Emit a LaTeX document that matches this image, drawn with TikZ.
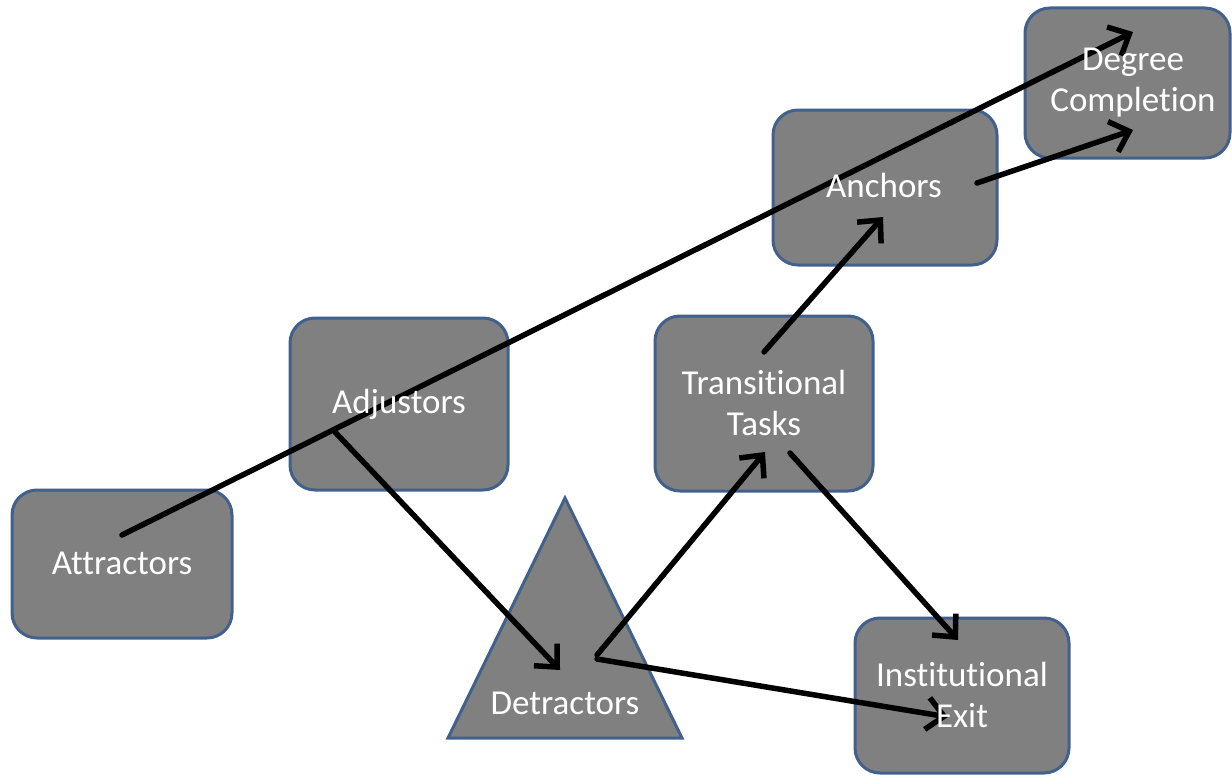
\documentclass[tikz,border=0pt]{standalone}
\usepackage{fontspec}
\setmainfont[Ligatures=NoCommon]{Carlito}
\usetikzlibrary{arrows.meta,calc}
\definecolor{boxfill}{HTML}{808080}
\definecolor{boxline}{HTML}{41618C}
\tikzset{
  box/.style={draw=boxline, line width=3pt, fill=boxfill, rounded corners=25pt, inner sep=0pt},
  lbl/.style={text=white, font=\fontsize{35}{41}\selectfont, align=center, inner sep=0pt},
  arr/.style={draw=black, line width=5.5pt, -{Straight Barb[length=17pt,width=32pt,line width=5.5pt]}, line cap=round, line join=round},
}
\begin{document}
\begin{tikzpicture}[x=1pt,y=-1pt]
\useasboundingbox (0,0) rectangle (1232,776);
% boxes
\node[box, minimum width=220pt, minimum height=148pt] (attr) at (122,564) {};
\node[box, minimum width=218pt, minimum height=172pt] (adj) at (399,404) {};
\node[box, minimum width=218pt, minimum height=175pt] (trans) at (764,403.5) {};
\node[box, minimum width=224pt, minimum height=155pt] (anch) at (885,187.5) {};
\node[box, minimum width=205pt, minimum height=150pt] (deg) at (1127.5,83) {};
\node[box, minimum width=214pt, minimum height=155pt] (exit) at (962,695.5) {};
\coordinate (tA) at (565,498);
\coordinate (tL) at (448,738);
\coordinate (tR) at (682,738);
\draw[draw=boxline, line width=3pt, fill=boxfill, line join=miter] (tA) -- (tR) -- (tL) -- cycle;
\coordinate (detr) at (565,660);
% connector end points
\coordinate (attrS) at (122,535);
\coordinate (degT1) at (1133,32);
\coordinate (adjS) at (335,432);
\coordinate (detrT) at (560,670);
\coordinate (detrS1) at (597,655);
\coordinate (transT) at (765,452);
\coordinate (detrS2) at (597,659);
\coordinate (exitT1) at (948,717);
\coordinate (transS1) at (764,352);
\coordinate (anchT) at (883,217);
\coordinate (transS2) at (790,453);
\coordinate (exitT2) at (958,640);
\coordinate (anchS) at (977,183);
\coordinate (degT2) at (1133,130);
% connectors
\draw[arr] (attrS) -- (degT1);
\draw[arr] (adjS) -- (detrT);
\draw[arr] (detrS1) -- (transT);
\draw[arr] (detrS2) -- (exitT1);
\draw[arr] (transS1) -- (anchT);
\draw[arr] (transS2) -- (exitT2);
\draw[arr] (anchS) -- (degT2);
% labels
\node[lbl] (attrL) at (122,563) {Attractors};
\node[lbl] (adjL) at (399,404) {Adjustors};
\node[lbl] (transL) at (764,403) {Transitional\\Tasks};
\node[lbl] (anchL) at (884,185) {Anchors};
\node[lbl] (degL) at (1133,83) {Degree\\Completion};
\node[lbl] (exitL) at (962,695) {Institutional\\Exit};
\node[lbl] (detrL) at (565,703) {Detractors};
\end{tikzpicture}
\end{document}
